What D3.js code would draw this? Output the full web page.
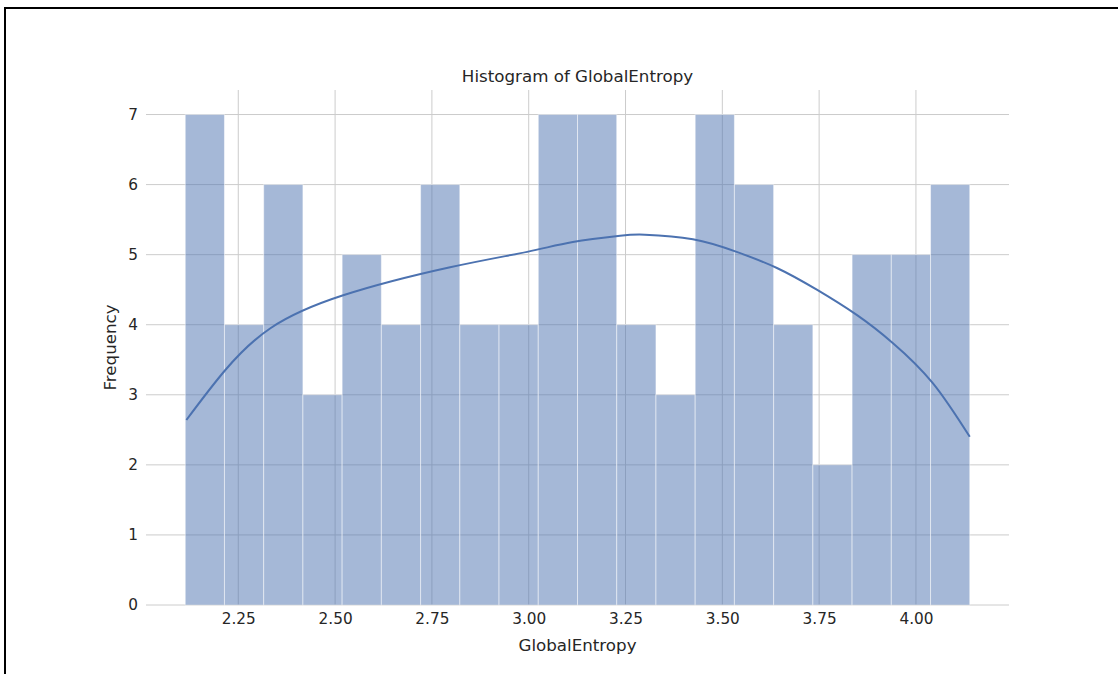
<!DOCTYPE html>
<html>
<head>
<meta charset="utf-8">
<script src="https://cdn.jsdelivr.net/npm/d3@7/dist/d3.min.js"></script>
<style>
  html, body { margin: 0; padding: 0; background: #fff; }
  svg { display: block; }
  text { font-family: "DejaVu Sans", sans-serif; fill: #262626; }
</style>
</head>
<body>
<svg id="chart" width="1118" height="674"></svg>
<script>
// ---- data ----
const title = "Histogram of GlobalEntropy";
const xLabel = "GlobalEntropy";
const yLabel = "Frequency";
const dataMin = 2.113;
const dataMax = 4.139;
const counts = [7, 4, 6, 3, 5, 4, 6, 4, 4, 7, 7, 4, 3, 7, 6, 4, 2, 5, 5, 6];
const xTicks = [2.25, 2.50, 2.75, 3.00, 3.25, 3.50, 3.75, 4.00];
const yTicks = [0, 1, 2, 3, 4, 5, 6, 7];
const kdeX = [2.116, 2.216, 2.333, 2.521, 2.797, 2.996, 3.114, 3.236, 3.300, 3.424, 3.537, 3.641, 3.744, 3.847, 3.940, 4.043, 4.139];
const kdeY = [2.64, 3.35, 3.95, 4.42, 4.82, 5.04, 5.18, 5.27, 5.285, 5.22, 5.04, 4.81, 4.50, 4.14, 3.74, 3.17, 2.40];

// ---- layout ----
const svg = d3.select("#chart");
const plot = { left: 146, right: 1009, top: 90, bottom: 605 };
const nBins = counts.length;
const binW = (dataMax - dataMin) / nBins;
const pad = (dataMax - dataMin) * 0.05;
const yMax = d3.max(counts) * 1.05;

const x = d3.scaleLinear().domain([dataMin - pad, dataMax + pad]).range([plot.left, plot.right]);
const y = d3.scaleLinear().domain([0, yMax]).range([plot.bottom, plot.top]);

// frame
svg.append("path")
  .attr("d", `M5,674 L5,8 L1118,8`)
  .attr("fill", "none").attr("stroke", "#000").attr("stroke-width", 2);

const g = svg.append("g");

// grid
g.append("g").selectAll("line").data(yTicks).join("line")
  .attr("x1", plot.left).attr("x2", plot.right)
  .attr("y1", d => y(d)).attr("y2", d => y(d))
  .attr("stroke", "#cccccc").attr("stroke-width", 1);
g.append("g").selectAll("line").data(xTicks).join("line")
  .attr("x1", d => x(d)).attr("x2", d => x(d))
  .attr("y1", plot.top).attr("y2", plot.bottom)
  .attr("stroke", "#cccccc").attr("stroke-width", 1);

// bars
const bins = counts.map((c, i) => ({ x0: dataMin + i * binW, x1: dataMin + (i + 1) * binW, c }));
g.append("g").selectAll("rect").data(bins).join("rect")
  .attr("x", d => x(d.x0)).attr("width", d => x(d.x1) - x(d.x0))
  .attr("y", d => y(d.c)).attr("height", d => y(0) - y(d.c))
  .attr("fill", "#4c72b0").attr("fill-opacity", 0.5)
  .attr("stroke", "#ffffff").attr("stroke-opacity", 0.5).attr("stroke-width", 1);

// kde
const kde = kdeX.map((v, i) => [v, kdeY[i]]);
g.append("path").datum(kde)
  .attr("d", d3.line().x(d => x(d[0])).y(d => y(d[1])).curve(d3.curveNatural))
  .attr("fill", "none").attr("stroke", "#4c72b0").attr("stroke-width", 2);

// axes
const xAxis = d3.axisBottom(x).tickValues(xTicks).tickFormat(d3.format(".2f")).tickSize(0).tickPadding(8);
const gx = svg.append("g").attr("transform", `translate(0,${plot.bottom})`).call(xAxis);
gx.select(".domain").remove();
gx.selectAll("text").attr("font-size", "15.3px").attr("fill", "#333333").attr("font-family", "DejaVu Sans");

const yAxis = d3.axisLeft(y).tickValues(yTicks).tickFormat(d3.format("d")).tickSize(0).tickPadding(8);
const gy = svg.append("g").attr("transform", `translate(${plot.left},0)`).call(yAxis);
gy.select(".domain").remove();
gy.selectAll("text").attr("font-size", "15.3px").attr("fill", "#333333").attr("font-family", "DejaVu Sans");

// labels
svg.append("text").attr("x", (plot.left + plot.right) / 2).attr("y", 82)
  .attr("text-anchor", "middle").attr("font-size", "16.7px").text(title);
svg.append("text").attr("x", (plot.left + plot.right) / 2).attr("y", 651)
  .attr("text-anchor", "middle").attr("font-size", "16.7px").text(xLabel);
svg.append("text").attr("transform", `translate(116,${(plot.top + plot.bottom) / 2}) rotate(-90)`)
  .attr("text-anchor", "middle").attr("font-size", "16.7px").text(yLabel);
</script>
</body>
</html>
